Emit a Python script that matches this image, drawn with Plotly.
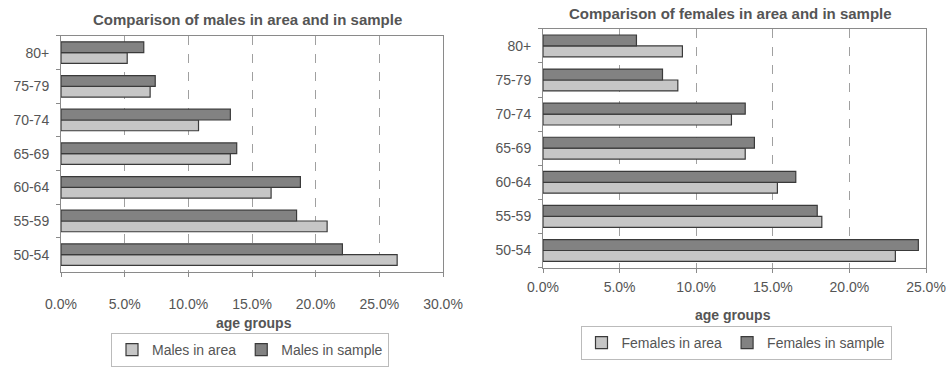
import plotly.graph_objects as go

age_groups = ["50-54", "55-59", "60-64", "65-69", "70-74", "75-79", "80+"]

males_in_area = [26.4, 20.9, 16.5, 13.3, 10.8, 7.0, 5.2]
males_in_sample = [22.1, 18.5, 18.8, 13.8, 13.3, 7.4, 6.5]

females_in_area = [23.0, 18.2, 15.3, 13.2, 12.3, 8.8, 9.1]
females_in_sample = [24.5, 17.9, 16.5, 13.8, 13.2, 7.8, 6.1]

x_ticks_left = [0, 5, 10, 15, 20, 25, 30]
x_ticks_right = [0, 5, 10, 15, 20, 25]
x_labels_left = ["0.0%", "5.0%", "10.0%", "15.0%", "20.0%", "25.0%", "30.0%"]
x_labels_right = ["0.0%", "5.0%", "10.0%", "15.0%", "20.0%", "25.0%"]

AREA_COLOR = "#c6c6c6"
SAMPLE_COLOR = "#828282"
EDGE = "#3a3a3a"
TEXT = "#555555"
FONT = "Liberation Sans, Arial, sans-serif"

W, H = 950, 367


def px(x):
    return x / W


def py(y):
    return 1 - y / H


fig = go.Figure()

fig.add_trace(go.Bar(y=age_groups, x=males_in_area, orientation="h", name="Males in area",
                     marker=dict(color=AREA_COLOR, line=dict(color=EDGE, width=1.2)),
                     xaxis="x", yaxis="y", legend="legend"))
fig.add_trace(go.Bar(y=age_groups, x=males_in_sample, orientation="h", name="Males in sample",
                     marker=dict(color=SAMPLE_COLOR, line=dict(color=EDGE, width=1.2)),
                     xaxis="x", yaxis="y", legend="legend"))
fig.add_trace(go.Bar(y=age_groups, x=females_in_area, orientation="h", name="Females in area",
                     marker=dict(color=AREA_COLOR, line=dict(color=EDGE, width=1.2)),
                     xaxis="x2", yaxis="y2", legend="legend2"))
fig.add_trace(go.Bar(y=age_groups, x=females_in_sample, orientation="h", name="Females in sample",
                     marker=dict(color=SAMPLE_COLOR, line=dict(color=EDGE, width=1.2)),
                     xaxis="x2", yaxis="y2", legend="legend2"))

xaxis_common = dict(
    showgrid=True, gridcolor="#a0a0a0", griddash="dash", gridwidth=1,
    zeroline=False, showline=True, linecolor="#8a8a8a", linewidth=1, mirror=True,
    ticks="outside", ticklen=4, tickcolor="#8a8a8a",
    tickfont=dict(size=14, color=TEXT, family=FONT),
    fixedrange=True, automargin=False,
)
yaxis_common = dict(
    showgrid=False, zeroline=False, showline=True, linecolor="#8a8a8a", linewidth=1, mirror=True,
    ticks="outside", ticklen=4, tickcolor="#8a8a8a", tickson="boundaries", ticklabelstandoff=8,
    tickfont=dict(size=14, color=TEXT, family=FONT), categoryorder="array",
    categoryarray=age_groups, fixedrange=True, automargin=False,
)

fig.update_layout(
    width=W, height=H,
    margin=dict(l=0, r=0, t=0, b=0),
    paper_bgcolor="white", plot_bgcolor="white",
    barmode="group", bargap=0.36, bargroupgap=0.0,
    font=dict(family=FONT, color=TEXT, size=14),
    xaxis=dict(domain=[px(61), px(443)], range=[0, 30], tickvals=x_ticks_left,
               ticktext=x_labels_left, anchor="y", ticklabelstandoff=16, **xaxis_common),
    yaxis=dict(domain=[py(273), py(36)], anchor="x", **yaxis_common),
    xaxis2=dict(domain=[px(543), px(926)], range=[0, 25], tickvals=x_ticks_right,
                ticktext=x_labels_right, anchor="y2", ticklabelstandoff=3, **xaxis_common),
    yaxis2=dict(domain=[py(269), py(29)], anchor="x2", **yaxis_common),
    legend=dict(orientation="h", x=px(250), y=py(352), xanchor="center", yanchor="middle",
                bordercolor="#bbbbbb", borderwidth=1, font=dict(size=14, color=TEXT, family=FONT),
                itemwidth=30, traceorder="normal", itemclick=False, tracegroupgap=0),
    legend2=dict(orientation="h", x=px(736), y=py(345), xanchor="center", yanchor="middle",
                 bordercolor="#bbbbbb", borderwidth=1, font=dict(size=14, color=TEXT, family=FONT),
                 itemwidth=30, traceorder="normal", itemclick=False, tracegroupgap=0),
    showlegend=True,
    hovermode=False,
    annotations=[
        dict(text="<b>Comparison of males in area and in sample</b>", x=px(247), y=py(20),
             xref="paper", yref="paper", xanchor="center", yanchor="middle", showarrow=False,
             font=dict(size=15, color=TEXT, family=FONT)),
        dict(text="<b>Comparison of females in area and in sample</b>", x=px(730), y=py(14),
             xref="paper", yref="paper", xanchor="center", yanchor="middle", showarrow=False,
             font=dict(size=15, color=TEXT, family=FONT)),
        dict(text="<b>age groups</b>", x=px(254), y=py(325), xref="paper", yref="paper",
             xanchor="center", yanchor="middle", showarrow=False,
             font=dict(size=14, color=TEXT, family=FONT)),
        dict(text="<b>age groups</b>", x=px(733), y=py(317), xref="paper", yref="paper",
             xanchor="center", yanchor="middle", showarrow=False,
             font=dict(size=14, color=TEXT, family=FONT)),
    ],
)

# remove the browser's default 8px body margin so the figure fills the window exactly
fig.write_html("out.html", config={"displayModeBar": False},
               post_script="document.body.style.margin='0';")
